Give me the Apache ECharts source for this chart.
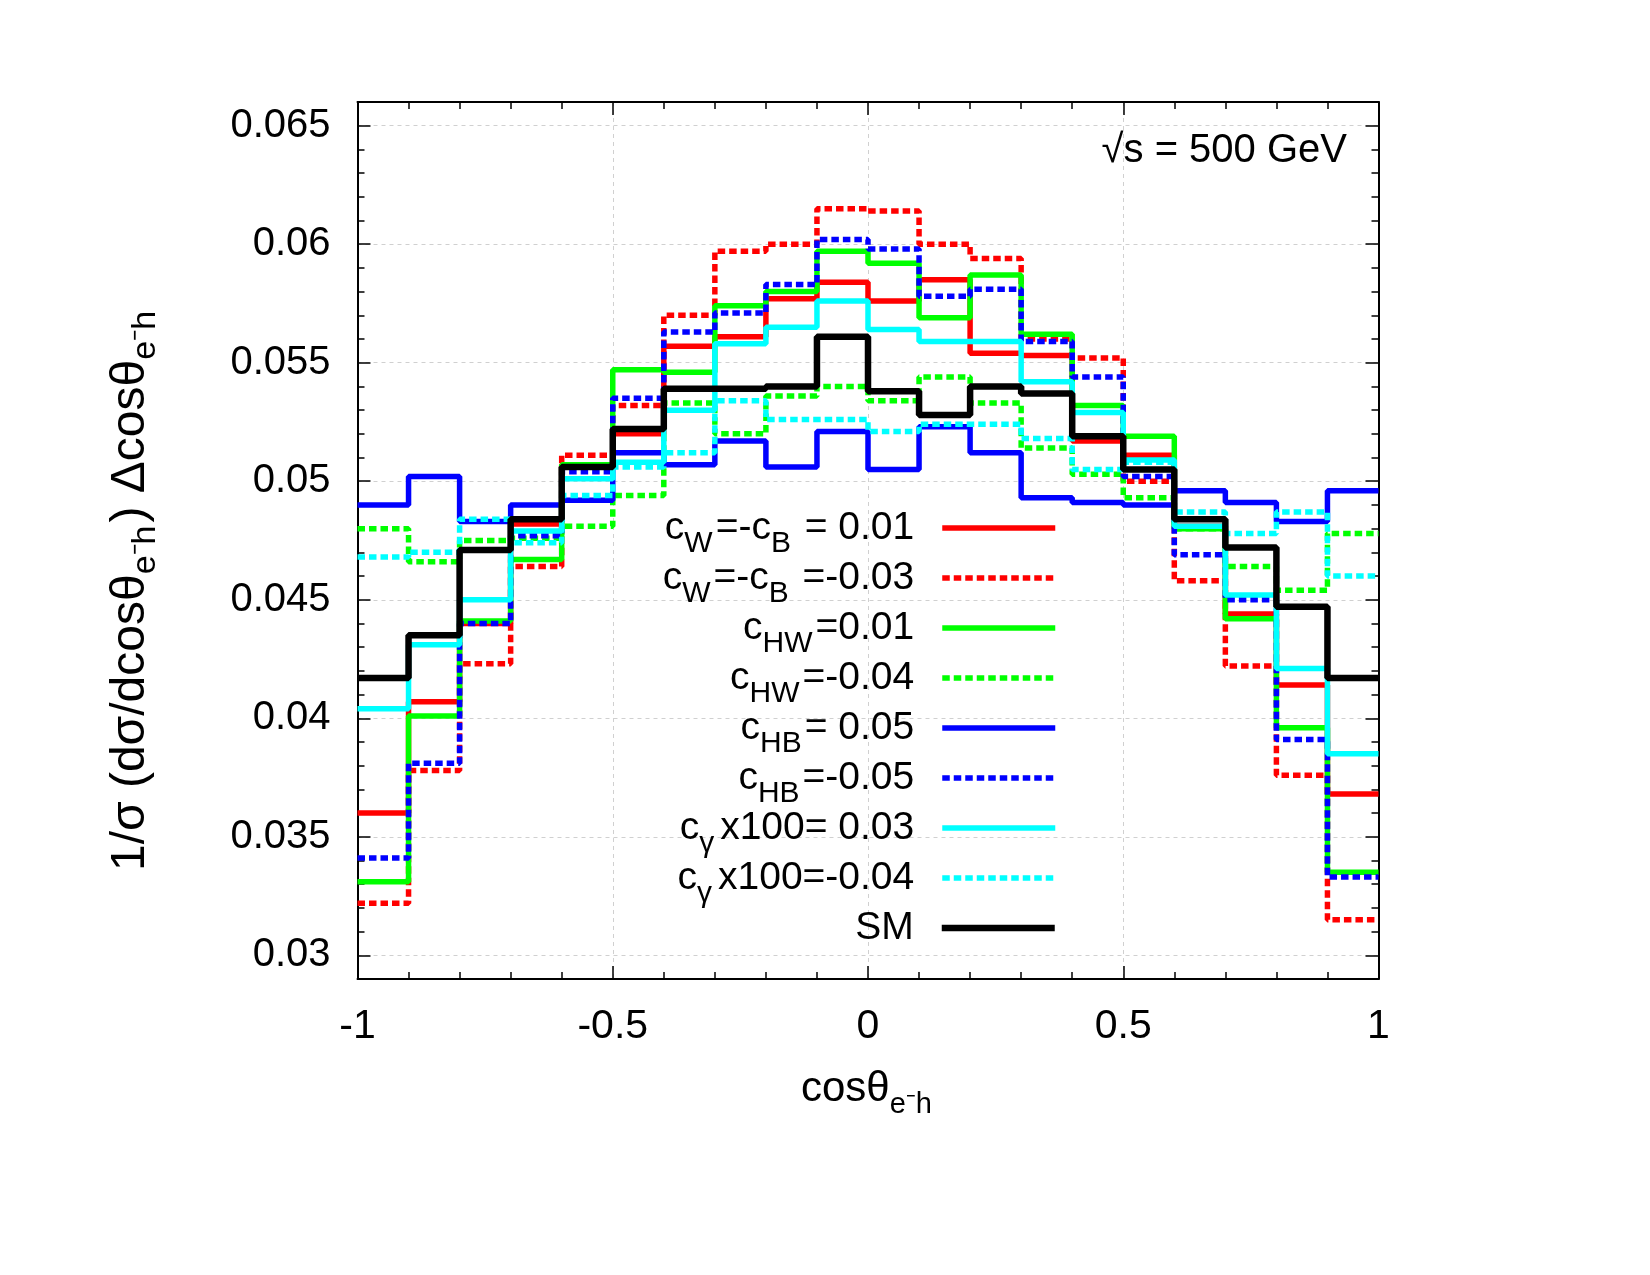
<!DOCTYPE html>
<html>
<head>
    <meta charset="utf-8">
    <title>cosθ e-h distribution</title>
    <script src="https://cdn.jsdelivr.net/npm/echarts@6/dist/echarts.min.js"></script>
    <style>
        body { margin: 0; background: #fff; }
        #chart1 { width: 1650px; height: 1275px; }
    </style>
</head>
<body>
<div id="chart1"></div>
<script type="text/javascript">
    // bin edges of cos(theta_e-h), 20 bins of width 0.1
    var binEdges = [-1, -0.9, -0.8, -0.7, -0.6, -0.5, -0.4, -0.3, -0.2, -0.1, 0,
        0.1, 0.2, 0.3, 0.4, 0.5, 0.6, 0.7, 0.8, 0.9, 1];
    var yTicks = [0.03, 0.035, 0.04, 0.045, 0.05, 0.055, 0.06, 0.065];

    // normalised distributions, one value per bin
    var cwPos = [0.0360, 0.0407, 0.0440, 0.0482, 0.0507, 0.0520, 0.0557, 0.0561, 0.0577, 0.0584,
        0.0576, 0.0585, 0.0554, 0.0553, 0.0517, 0.0511, 0.0481, 0.0444, 0.0414, 0.0368];
    var cwNeg = [0.0322, 0.0378, 0.0423, 0.0464, 0.0511, 0.0532, 0.0570, 0.0597, 0.0600, 0.0615,
        0.0614, 0.0600, 0.0594, 0.0560, 0.0552, 0.0500, 0.0458, 0.0422, 0.0376, 0.0315];
    var chwPos = [0.0331, 0.0401, 0.0441, 0.0467, 0.0507, 0.0547, 0.0546, 0.0574, 0.0580, 0.0597,
        0.0592, 0.0569, 0.0587, 0.0562, 0.0532, 0.0519, 0.0480, 0.0442, 0.0396, 0.0335];
    var chwNeg = [0.0480, 0.0466, 0.0475, 0.0476, 0.0481, 0.0494, 0.0533, 0.0520, 0.0536, 0.0540,
        0.0534, 0.0544, 0.0533, 0.0514, 0.0503, 0.0493, 0.0480, 0.0464, 0.0454, 0.0478];
    var chbPos = [0.0490, 0.0502, 0.0483, 0.0490, 0.0492, 0.0512, 0.0507, 0.0517, 0.0506, 0.0521,
        0.0505, 0.0523, 0.0512, 0.0493, 0.0491, 0.0490, 0.0496, 0.0491, 0.0483, 0.0496];
    var chbNeg = [0.0341, 0.0381, 0.0440, 0.0477, 0.0504, 0.0535, 0.0563, 0.0571, 0.0583, 0.0602,
        0.0598, 0.0578, 0.0581, 0.0559, 0.0544, 0.0502, 0.0469, 0.0450, 0.0391, 0.0333];
    var cgPos = [0.0404, 0.0431, 0.0450, 0.0479, 0.0501, 0.0508, 0.0530, 0.0558, 0.0565, 0.0576,
        0.0564, 0.0559, 0.0559, 0.0542, 0.0529, 0.0509, 0.0481, 0.0452, 0.0421, 0.0385];
    var cgNeg = [0.0468, 0.0470, 0.0484, 0.0474, 0.0494, 0.0506, 0.0512, 0.0534, 0.0526, 0.0526,
        0.0521, 0.0524, 0.0524, 0.0518, 0.0505, 0.0508, 0.0487, 0.0478, 0.0487, 0.0460];
    var sm = [0.0417, 0.0435, 0.0471, 0.0484, 0.0506, 0.0522, 0.0539, 0.0539, 0.0540, 0.0561,
        0.0538, 0.0528, 0.0540, 0.0537, 0.0519, 0.0505, 0.0484, 0.0472, 0.0447, 0.0417];

    var seriesNames = ['cW=-cB = 0.01', 'cW=-cB =-0.03', 'cHW=0.01', 'cHW=-0.04',
        'cHB= 0.05', 'cHB=-0.05', 'cgx100= 0.03', 'cgx100=-0.04', 'SM'];
    // legend labels with subscripts
    var legendLabels = [
        '{m|c}{s|W}{m|=-c}{s|B}{m| = 0.01}',
        '{m|c}{s|W}{m|=-c}{s|B}{m| =-0.03}',
        '{m|c}{s|HW}{m|=0.01}',
        '{m|c}{s|HW}{m|=-0.04}',
        '{m|c}{s|HB}{m|= 0.05}',
        '{m|c}{s|HB}{m|=-0.05}',
        '{m|c}{g|γ}{m|x100= 0.03}',
        '{m|c}{g|γ}{m|x100=-0.04}',
        '{s| }{m|SM}'
    ];

    var FONT = 'Liberation Sans, Arial, sans-serif';

    var myChart1 = echarts.init(document.getElementById('chart1'));

    //histogram -> step line points at the left edge of every bin plus the last right edge
    function toSteps(vals) {
        var pts = [];
        for (var i = 0; i < vals.length; i++) {
            pts.push([binEdges[i], vals[i]]);
        }
        pts.push([binEdges[vals.length], vals[vals.length - 1]]);
        return pts;
    }

    // rich styles: m = main text, s = subscript, g = subscript with a little gap after it
    function richText(size, subSize, subShift) {
        var lh = subSize + subShift + 2;
        return {
            m: {fontFamily: FONT, fontSize: size, color: '#000', lineHeight: lh},
            s: {fontFamily: FONT, fontSize: subSize, color: '#000', lineHeight: subSize, padding: [subShift, 3, 0, 0]},
            g: {fontFamily: FONT, fontSize: subSize, color: '#000', lineHeight: subSize, padding: [subShift, 6, 0, 0]}
        };
    }

    var allValues = [cwPos, cwNeg, chwPos, chwNeg, chbPos, chbNeg, cgPos, cgNeg, sm];
    var colors = ['#ff0000', '#ff0000', '#00ff00', '#00ff00', '#0000ff', '#0000ff', '#00ffff', '#00ffff', '#000000'];
    var dashed = [false, true, false, true, false, true, false, true, false];

    var series = [];
    var legends = [];
    for (var k = 0; k < allValues.length; k++) {
        var lw = k === 8 ? 6.5 : 5.5;
        series.push({
            name: seriesNames[k],
            type: 'line',
            step: 'end',
            data: toSteps(allValues[k]),
            symbol: 'none',
            color: colors[k],
            lineStyle: {
                color: colors[k],
                width: lw,
                type: dashed[k] ? [7.5, 4] : 'solid'
            },
            animation: false
        });
        legends.push({
            data: [seriesNames[k]],
            right: 592,
            top: 529 + 50 * k - 32,
            orient: 'vertical',
            align: 'right',
            padding: 0,
            itemWidth: 113,
            itemHeight: 14,
            selectedMode: false,
            itemStyle: {opacity: 0},
            lineStyle: {width: lw},
            formatter: (function (idx) {
                return function () { return legendLabels[idx]; };
            })(k),
            textStyle: {
                fontFamily: FONT,
                fontSize: 39,
                color: '#000',
                padding: [0, 23, 0, 0],
                rich: richText(39, 30, 32)
            }
        });
    }

    var tickLine = {color: '#000', width: 1.5};
    var frameLine = {show: true, onZero: false, lineStyle: {color: '#000', width: 2}};
    var gridLine = {show: true, lineStyle: {color: '#d0d0d0', width: 1, type: [4, 4]}};

    function minorY(pos) {
        return {
            type: 'value', position: pos, min: 0.029, max: 0.066, interval: 0.001,
            axisLine: frameLine,
            axisTick: {show: true, inside: true, length: 7, lineStyle: tickLine},
            axisLabel: {show: false},
            splitLine: {show: false}
        };
    }

    function majorY(pos, showLabel) {
        return {
            type: 'value', position: pos, min: 0.029, max: 0.066,
            axisLine: {show: false, onZero: false},
            axisTick: {show: true, inside: true, length: 13, lineStyle: tickLine, customValues: yTicks},
            axisLabel: {show: showLabel, customValues: yTicks, fontFamily: FONT, fontSize: 40, color: '#000', margin: 27},
            splitLine: showLabel ? gridLine : {show: false}
        };
    }

    var yLeft = minorY('left');
    yLeft.name = '{m|1/σ (dσ/dcosθ}{s|e⁻h}{m|) Δcosθ}{s|e⁻h}';
    yLeft.nameLocation = 'middle';
    yLeft.nameGap = 194;
    yLeft.nameMoveOverlap = false;
    yLeft.nameTextStyle = {fontFamily: FONT, fontSize: 48, color: '#000', padding: [0, 98, 0, 0], rich: richText(48, 34, 30)};

    var options = {
        animation: false,
        backgroundColor: '#ffffff',
        textStyle: {fontFamily: FONT, color: '#000'},
        title: {
            text: '√s = 500 GeV',
            right: 303,
            top: 131,
            padding: 0,
            textStyle: {fontFamily: FONT, fontSize: 40, fontWeight: 'normal', color: '#000'}
        },
        legend: legends,
        grid: {left: 357.5, right: 271.5, top: 102, bottom: 296, containLabel: false, outerBoundsMode: 'none'},
        xAxis: [{
            type: 'value', position: 'bottom', min: -1, max: 1, interval: 0.5,
            axisLine: frameLine,
            axisTick: {show: true, inside: true, length: 13, lineStyle: tickLine},
            minorTick: {show: true, splitNumber: 5, length: 7, lineStyle: tickLine},
            axisLabel: {fontFamily: FONT, fontSize: 41, color: '#000', margin: 27},
            splitLine: gridLine,
            name: '{m|cosθ}{s|e⁻h}',
            nameLocation: 'middle',
            nameGap: 80,
            nameMoveOverlap: false,
            nameTextStyle: {fontFamily: FONT, fontSize: 42, color: '#000', rich: richText(42, 29, 30)}
        }, {
            type: 'value', position: 'top', min: -1, max: 1, interval: 0.5,
            axisLine: frameLine,
            axisTick: {show: true, inside: true, length: 13, lineStyle: tickLine},
            minorTick: {show: true, splitNumber: 5, length: 7, lineStyle: tickLine},
            axisLabel: {show: false},
            splitLine: {show: false}
        }],
        yAxis: [yLeft, majorY('left', true), minorY('right'), majorY('right', false)],
        series: series
    };
    myChart1.setOption(options);
</script>
</body>
</html>
